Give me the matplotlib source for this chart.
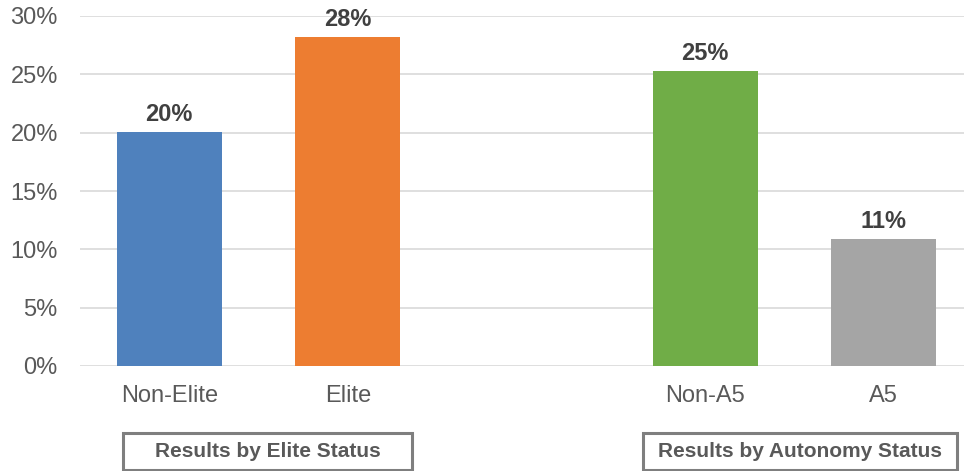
import matplotlib.pyplot as plt
from matplotlib.patches import Rectangle
from matplotlib.ticker import PercentFormatter

plt.rcParams['font.family'] = ['Liberation Sans', 'DejaVu Sans']

categories = ['Non-Elite', 'Elite', 'Non-A5', 'A5']
positions = [0, 1, 3, 4]
values = [0.2005, 0.282, 0.253, 0.109]
colors = ['#4F81BD', '#ED7D31', '#70AD47', '#A5A5A5']
group_titles = ['Results by Elite Status', 'Results by Autonomy Status']

W, H = 964, 471
fig = plt.figure(figsize=(W / 100, H / 100), dpi=100)
# plot area: x from 80px to 973px (right edge runs just past the figure)
ax = fig.add_axes([80 / W, 1 - 366 / H, (973 - 80) / W, (366 - 16) / H])

ax.bar(positions, values, width=0.587, color=colors, zorder=2)
for x, v in zip(positions, values):
    ax.annotate(f'{v:.0%}', (x, v), xytext=(0, 4.5), textcoords='offset points',
                ha='center', va='bottom', fontsize=17, fontweight='bold',
                color='#404040')

ax.set_xlim(-0.5, 4.5)
ax.set_ylim(0, 0.30)
ax.set_yticks([0, 0.05, 0.10, 0.15, 0.20, 0.25, 0.30])
ax.yaxis.set_major_formatter(PercentFormatter(1.0, decimals=0))
ax.set_xticks(positions)
ax.set_xticklabels(categories)
ax.tick_params(axis='both', length=0, labelsize=17, labelcolor='#595959')
ax.tick_params(axis='x', pad=14)
ax.tick_params(axis='y', pad=16)
ax.grid(axis='y', color='#D9D9D9', linewidth=1.2, zorder=0)
for s in ax.spines.values():
    s.set_visible(False)

# group caption boxes under the categories
boxes = [(123, 412), (643, 957)]
for (x0, x1), title in zip(boxes, group_titles):
    fig.patches.append(Rectangle((x0 / W, 1 - 470 / H), (x1 - x0) / W, 37 / H,
                                 transform=fig.transFigure, facecolor='white',
                                 edgecolor='#7F7F7F', linewidth=2.2))
    fig.text((x0 + x1) / 2 / W, 1 - 451.5 / H, title, ha='center', va='center',
             fontsize=15, fontweight='bold', color='#595959')

fig.savefig('out.png', dpi=100)
